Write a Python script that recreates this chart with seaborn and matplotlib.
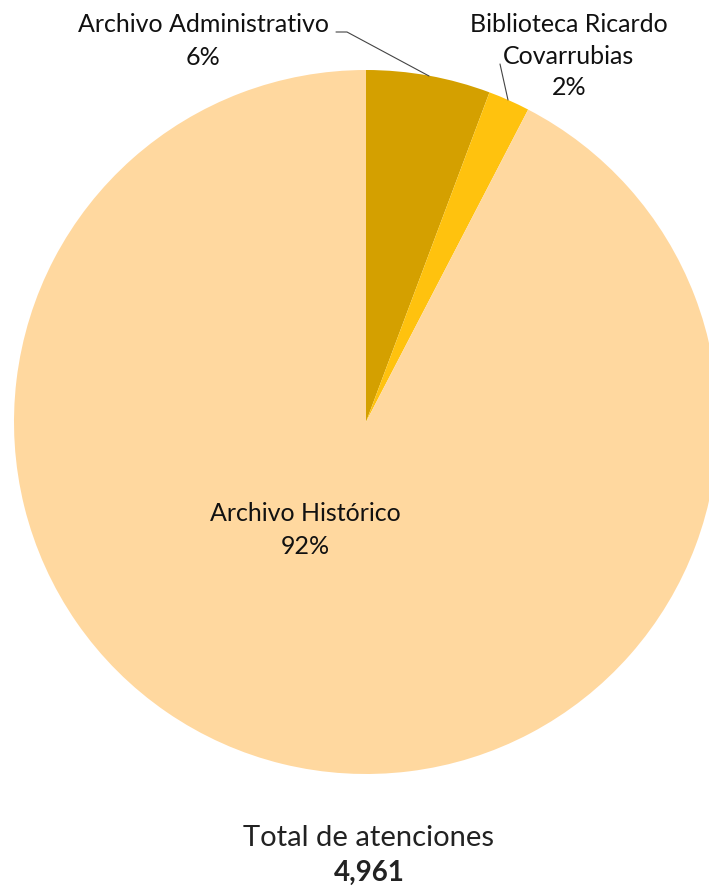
import matplotlib
matplotlib.use('Agg')
import matplotlib.pyplot as plt
import seaborn as sns

# data
areas = ['Archivo Administrativo', 'Biblioteca Ricardo\nCovarrubias', 'Archivo Histórico']
atenciones = [283, 95, 4583]
colores = ['#D4A000', '#FFC20E', '#FFD89F']
total = sum(atenciones)

sns.set_style('white')
plt.rcParams['font.family'] = ['Lato', 'DejaVu Sans']

fig = plt.figure(figsize=(7.09, 8.87), dpi=100)
ax = fig.add_axes([0, 0, 1, 1])

# pie in pixel units, y measured from the bottom
cx, cy, r = 366, 887 - 423, 352
wedges, _ = ax.pie(atenciones, colors=colores, startangle=90, counterclock=False,
                   center=(cx, cy), radius=r, frame=True,
                   wedgeprops=dict(linewidth=0))
ax.set_xlim(0, 709)
ax.set_ylim(0, 887)
ax.set_aspect('equal')
ax.axis('off')

pct = [round(v / total * 100) for v in atenciones]
txt = '#111111'

# Archivo Administrativo label + leader line
ax.text(203, 887 - 41, f'{areas[0]}\n{pct[0]}%', ha='center', va='center',
        fontsize=18, linespacing=1.55, color=txt)
ax.plot([336, 347, 429], [887 - 33, 887 - 33, 887 - 77], color='#444444', lw=0.8)

# Biblioteca label + leader line
ax.text(569, 887 - 56, f'{areas[1]}\n{pct[1]}%', ha='center', va='center',
        fontsize=18, linespacing=1.45, color=txt)
ax.plot([500, 508], [887 - 65, 887 - 101], color='#444444', lw=0.8)

# Archivo Histórico label inside
ax.text(305, 887 - 530, f'{areas[2]}\n{pct[2]}%', ha='center', va='center',
        fontsize=18, linespacing=1.55, color=txt)

# total
ax.text(369, 887 - 838, 'Total de atenciones', ha='center', va='center',
        fontsize=21, color='#222222')
ax.text(369, 887 - 873, f'{total:,}', ha='center', va='center',
        fontsize=20, fontweight='bold', color='#222222')

fig.savefig('out.png', dpi=100)
